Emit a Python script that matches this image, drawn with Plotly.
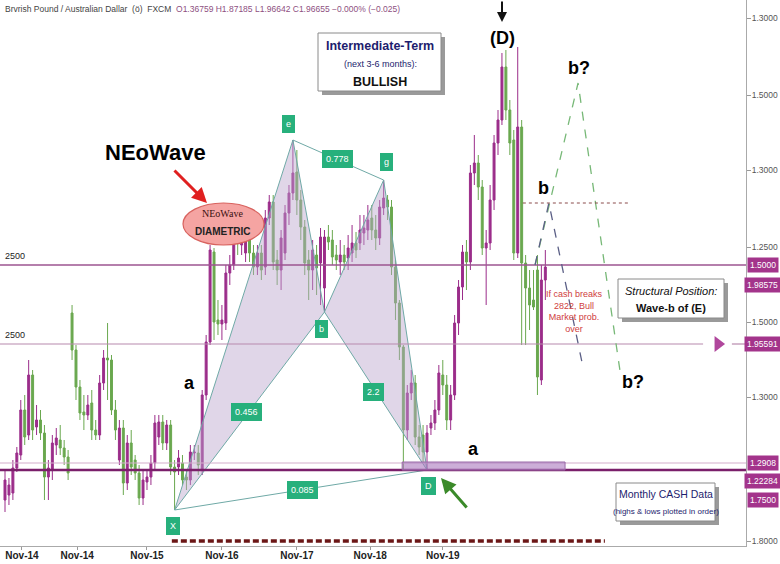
import plotly.graph_objects as go

# ---------------- data (monthly candles, chart level units) ----------------
opens = [50,55,57,82,95,140,115,175,123,130,117,73,80,105,110,102,93,237,200,163,
         138,135,147,120,115,167,192,190,140,90,122,67,107,90,77,52,68,73,87,113,
         128,107,125,83,83,87,73,70,97,97,80,155,208,298,230,226,227,277,285,313,
         305,297,310,297,283,297,283,332,348,290,280,297,337,357,378,350,323,290,280,295,
         287,262,313,310,295,288,295,292,297,307,307,317,320,332,320,312,342,350,343,283,
         247,203,120,157,167,113,115,98,122,127,140,175,165,130,155,227,263,298,288,377,
         387,363,302,307,350,407,430,483,440,410,297,423,287,262,250,280,170,270]
highs = [80,72,90,103,150,155,190,180,145,140,125,90,115,122,125,110,100,245,205,170,
         155,155,160,130,175,200,227,195,150,130,130,115,120,95,85,80,80,95,135,135,
         135,130,130,90,100,95,80,105,105,105,160,215,305,302,250,245,285,295,320,325,
         320,318,320,305,305,305,340,355,355,300,320,345,365,410,400,360,330,300,310,305,
         322,320,325,320,305,310,305,315,325,318,335,335,345,345,335,350,370,355,350,290,
         250,205,165,180,175,125,125,125,135,150,185,190,175,165,235,270,305,310,385,415,
         395,370,320,365,415,440,497,500,450,420,503,430,295,280,280,295,285,300]
lows = [38,45,50,78,90,105,110,110,115,110,50,50,70,95,95,85,70,190,150,130,
        120,130,110,110,110,160,150,135,110,85,55,60,75,70,45,45,60,65,80,105,
        100,100,75,40,75,65,60,65,90,75,75,150,205,210,215,210,220,265,280,295,
        295,288,288,275,275,270,275,325,280,265,260,290,325,350,335,310,275,250,260,255,
        245,238,300,285,280,275,280,280,288,292,300,305,310,310,300,305,335,330,275,230,
        190,80,110,150,105,95,88,80,115,120,135,155,120,120,150,215,250,260,280,365,
        350,295,245,300,340,395,425,430,395,290,292,205,205,220,240,155,165,250]
closes = [70,65,82,97,140,113,175,120,130,117,73,82,107,112,102,93,77,200,163,137,
          135,145,120,115,167,192,190,140,120,122,67,107,83,77,52,70,73,87,127,128,
          107,125,83,78,92,70,70,98,98,85,155,208,300,228,226,230,277,285,310,307,
          313,310,297,283,297,280,332,348,288,280,312,337,357,377,350,323,287,280,300,282,
          313,313,308,293,290,295,288,302,307,300,320,322,330,320,312,343,352,343,283,247,
          203,120,157,167,113,103,98,117,127,140,177,165,130,155,227,263,298,288,377,387,
          363,302,307,350,407,430,483,440,407,297,423,287,262,245,243,173,270,283]
candle_idx = list(range(len(opens)))

# harmonic (diametric) pattern points: X, e, b, g, D
pat_names = ["X", "e", "b", "g", "D"]
pat_x = [43, 73, 81, 96, 107]
pat_y = [40, 410, 238, 370, 80]
pat_ratios = ["0.456", "0.778", "2.2", "0.085"]

# key horizontal levels
level_upper = 285
level_mid = 206
level_low_thin = 87
level_low_thick = 80
dotted_level = 347

# projected wave-b paths
proj_green_x = [134.4, 145.3, 155.9]
proj_green_y = [285, 467, 180]
proj_dark_x = [134.4, 137.9, 146.6]
proj_dark_y = [285, 347, 182]

# axis ticks
x_tickvals = [4.3, 18.3, 36.0, 55.0, 74.0, 92.6, 111.0]
x_ticktext = ["Nov-14", "Nov-14", "Nov-15", "Nov-16", "Nov-17", "Nov-18", "Nov-19"]
y_tickvals = [532, 455, 380, 303, 228, 153, 9]
y_ticktext = ["1.3000", "1.5000", "1.3000", "1.2500", "1.5000", "1.3000", "1.8000"]
hl_levels = [285, 265, 206, 87, 69, 50]
hl_text = ["1.5000", "1.98575", "1.95591", "1.2908", "1.22284", "1.7500"]

# ---------------- geometry helpers ----------------
W_PLOT, H_PLOT = 746, 546
XMIN, XMAX = -1.268, 187.88
YMIN, YMAX = 4, 550


def PX(px):
    return px / W_PLOT


def PY(py):
    return 1 - py / H_PLOT


PURPLE = "#9b2d8a"
GREEN = "#6aa84f"
SANS = "Liberation Sans, Arial, sans-serif"

fig = go.Figure()

# pattern triangles
for tri in ([0, 1, 2], [2, 3, 4]):
    fig.add_trace(go.Scatter(
        x=[pat_x[i] for i in tri] + [pat_x[tri[0]]],
        y=[pat_y[i] for i in tri] + [pat_y[tri[0]]],
        mode="lines", fill="toself", fillcolor="rgba(186,165,205,0.45)",
        line=dict(color="#6fa9a6", width=1), hoverinfo="skip", showlegend=False))
for a, b in ((0, 4), (1, 3)):
    fig.add_trace(go.Scatter(x=[pat_x[a], pat_x[b]], y=[pat_y[a], pat_y[b]], mode="lines",
                             line=dict(color="#6fa9a6", width=1), hoverinfo="skip", showlegend=False))

# horizontal levels
fig.add_trace(go.Scatter(x=[XMIN, XMAX], y=[level_upper] * 2, mode="lines",
                         line=dict(color="#9c5590", width=1.6), showlegend=False, hoverinfo="skip"))
fig.add_trace(go.Scatter(x=[XMIN, 177.0, None, 184.3, XMAX], y=[level_mid, level_mid, None, level_mid, level_mid],
                         mode="lines", line=dict(color="#b88aae", width=1.2), showlegend=False, hoverinfo="skip"))
fig.add_trace(go.Scatter(x=[180.8], y=[level_mid], mode="markers",
                         marker=dict(symbol="triangle-right", size=14, color="#b0479c"),
                         showlegend=False, hoverinfo="skip", cliponaxis=False))
fig.add_trace(go.Scatter(x=[XMIN, XMAX], y=[level_low_thin] * 2, mode="lines",
                         line=dict(color="#d3aecb", width=1.2), showlegend=False, hoverinfo="skip"))
fig.add_trace(go.Scatter(x=[XMIN, XMAX], y=[level_low_thick] * 2, mode="lines",
                         line=dict(color="#7a1f6a", width=2.6), showlegend=False, hoverinfo="skip"))

# candles
fig.add_trace(go.Candlestick(
    x=candle_idx, open=opens, high=highs, low=lows, close=closes,
    increasing=dict(line=dict(color=PURPLE, width=1), fillcolor=PURPLE),
    decreasing=dict(line=dict(color=GREEN, width=1), fillcolor=GREEN),
    whiskerwidth=0, showlegend=False, hoverinfo="skip"))

# projections
fig.add_trace(go.Scatter(x=proj_green_x, y=proj_green_y, mode="lines",
                         line=dict(color="#77b877", width=1.3, dash="dash"), showlegend=False, hoverinfo="skip"))
fig.add_trace(go.Scatter(x=proj_dark_x, y=proj_dark_y, mode="lines",
                         line=dict(color="#5b5f86", width=1.3, dash="dash"), showlegend=False, hoverinfo="skip"))
fig.add_trace(go.Scatter(x=[131.3, 158.5], y=[dotted_level] * 2, mode="lines",
                         line=dict(color="#8a4a4a", width=1, dash="dot"), showlegend=False, hoverinfo="skip"))
# bottom dashed band
fig.add_trace(go.Scatter(x=[42.3, 152.1], y=[9, 9], mode="lines",
                         line=dict(color="#6b1616", width=3.5, dash="6px,3px"), showlegend=False, hoverinfo="skip"))

shapes = []
# purple zone near D
shapes.append(dict(type="rect", xref="x", yref="y", x0=100.7, x1=142.0, y0=80, y1=88,
                   fillcolor="rgba(170,120,190,0.6)", line=dict(color="#9a6aa8", width=1), layer="above"))
# ellipse
shapes.append(dict(type="circle", xref="paper", yref="paper", x0=PX(183), x1=PX(264), y0=PY(245), y1=PY(203),
                   fillcolor="#f5a4a2", line=dict(color="#d8625e", width=1.2), layer="above"))


def box(x0, y0, x1, y1):
    shapes.append(dict(type="rect", xref="paper", yref="paper", x0=PX(x0 + 4), x1=PX(x1 + 4),
                       y0=PY(y1 + 4), y1=PY(y0 + 4), fillcolor="#9a9a9a", line=dict(width=0), layer="above"))
    shapes.append(dict(type="rect", xref="paper", yref="paper", x0=PX(x0), x1=PX(x1),
                       y0=PY(y1), y1=PY(y0), fillcolor="white", line=dict(color="#8a8a8a", width=1), layer="above"))


box(318, 33, 441, 91)
box(618, 279, 724, 318)
box(616, 483, 715, 521)

annotations = []


def txt(text, px, py, size=12, color="black", family=SANS, xanchor="center", **kw):
    annotations.append(dict(text=text, x=PX(px), y=PY(py), xref="paper", yref="paper", showarrow=False,
                            font=dict(size=size, color=color, family=family), xanchor=xanchor, yanchor="middle", **kw))


# header
txt("Brvrish Pound / Australian Dallar  (ö)  FXCM  <span style='color:#8e4f7f'>O1.36759 H1.87185 "
    "L1.96642 C1.96655 −0.000% (−0.025)</span>", 3, 9, size=8.5, color="#444", xanchor="left")

# green pattern labels
GL = "#27b07c"


def glabel(text, px, py):
    annotations.append(dict(text=text, x=PX(px), y=PY(py), xref="paper", yref="paper", showarrow=False,
                            font=dict(size=9, color="white", family=SANS), bgcolor=GL, bordercolor=GL,
                            borderpad=3, xanchor="center", yanchor="middle"))


glabel("X", 173, 526)
glabel("e", 288, 124)
glabel("b", 321, 329)
glabel("g", 386, 162)
glabel("D", 428, 486)
glabel(pat_ratios[0], 246, 412)
glabel(pat_ratios[1], 337, 159)
glabel(pat_ratios[2], 373, 392)
glabel(pat_ratios[3], 302, 490)

# big labels
txt("<b>NEoWave</b>", 155, 152, size=22)
txt("NEoWave", 223, 214, size=10, family="Liberation Serif, DejaVu Serif, serif", color="#3a1010")
txt("<b>DIAMETRIC</b>", 223, 231, size=10, color="#222")
txt("<b>a</b>", 189, 383, size=18)
txt("<b>a</b>", 473, 449, size=18)
txt("<b>(D)</b>", 502, 38, size=18)
txt("<b>b</b>", 543, 188, size=18)
txt("<b>b?</b>", 579, 68, size=18)
txt("<b>b?</b>", 633, 382, size=18)
txt("2500", 3, 256, size=9, xanchor="left", color="#222")
txt("2500", 3, 335, size=9, xanchor="left", color="#222")

# boxes text
txt("<b>Intermediate-Term</b>", 380, 46, size=12.5, color="#1d1d6e")
txt("(next 3-6 months):", 380, 64, size=9, color="#1d1d6e")
txt("<b>BULLISH</b>", 380, 82, size=12.5, color="#111")
txt("<i>Structural Position:</i>", 671, 291, size=11, color="#111")
txt("<b>Wave-b of (E)</b>", 671, 308, size=11, color="#111")
txt("Monthly CASH Data", 666, 494, size=10.5, color="#1d1d6e")
txt("(highs & lows plotted in order)", 666, 511, size=8, color="#1d1d6e")
txt("If cash breaks<br>2822, Bull<br>Market prob.<br>over", 574, 311, size=9, color="#cf3d3d")

# arrows
annotations.append(dict(x=PX(207), y=PY(203), ax=-34, ay=-34, xref="paper", yref="paper", text="",
                        showarrow=True, arrowhead=2, arrowsize=1, arrowwidth=3, arrowcolor="#e02020"))
annotations.append(dict(x=PX(441), y=PY(478), ax=27, ay=31, xref="paper", yref="paper", text="",
                        showarrow=True, arrowhead=2, arrowsize=1, arrowwidth=3, arrowcolor="#3b8a2a"))
annotations.append(dict(x=PX(502), y=PY(22), ax=0, ay=-24, xref="paper", yref="paper", text="",
                        showarrow=True, arrowhead=2, arrowsize=1, arrowwidth=2, arrowcolor="#111"))

# highlighted price labels on right axis
for lv, t in zip(hl_levels, hl_text):
    annotations.append(dict(text=t, x=PX(763), y=(lv - YMIN) / (YMAX - YMIN), xref="paper", yref="paper",
                            showarrow=False, font=dict(size=8.5, color="white", family=SANS),
                            bgcolor="#a3348b", borderpad=2, xanchor="center", yanchor="middle"))

fig.update_layout(
    width=780, height=564, margin=dict(l=0, r=34, t=0, b=18),
    paper_bgcolor="white", plot_bgcolor="white", showlegend=False,
    shapes=shapes, annotations=annotations,
    xaxis=dict(range=[XMIN, XMAX], rangeslider=dict(visible=False), showgrid=False, zeroline=False,
               tickvals=x_tickvals, ticktext=["<b>%s</b>" % t for t in x_ticktext],
               tickfont=dict(size=10, color="#222", family=SANS), ticks="outside", ticklen=3,
               ticklabelstandoff=-3,
               tickcolor="#999", showline=True, linecolor="#aaa", linewidth=1),
    yaxis=dict(range=[YMIN, YMAX], side="right", showgrid=False, zeroline=False,
               tickvals=y_tickvals, ticktext=y_ticktext, tickfont=dict(size=8.5, color="#555", family=SANS),
               ticks="outside", ticklen=4, tickcolor="#999", showline=True, linecolor="#aaa", linewidth=1,
               ticklabelstandoff=-1),
)

fig.write_html("out.html", config={"displayModeBar": False},
               post_script="document.body.style.margin='0';document.body.style.overflow='hidden';")
